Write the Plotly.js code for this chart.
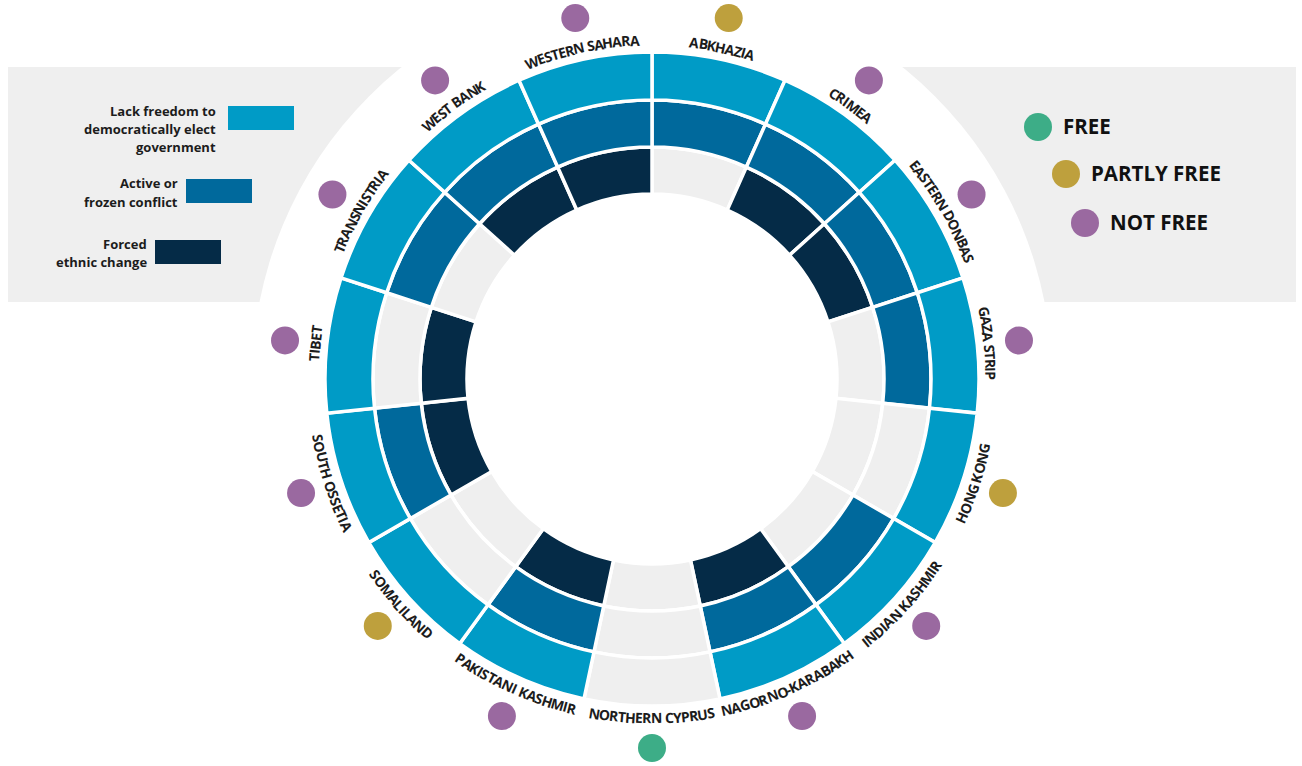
<!DOCTYPE html>
<html>
<head>
<meta charset="utf-8">
<script src="https://cdn.plot.ly/plotly-3.0.1.min.js"></script>
<style>html,body{margin:0;padding:0;background:#fff;}#chart{width:1302px;height:766px;}</style>
</head>
<body>
<div id="chart"></div>
<script>
// ---------------- DATA ----------------
const territories = ['ABKHAZIA','CRIMEA','EASTERN DONBAS','GAZA STRIP','HONG KONG','INDIAN KASHMIR',
  'NAGORNO-KARABAKH','NORTHERN CYPRUS','PAKISTANI KASHMIR','SOMALILAND','SOUTH OSSETIA','TIBET',
  'TRANSNISTRIA','WEST BANK','WESTERN SAHARA'];
const lackFreedom   = [1,1,1,1,1,1,1,0,1,1,1,1,1,1,1];
const activeConflict= [1,1,1,1,0,1,1,0,1,0,1,0,1,1,1];
const ethnicChange  = [0,1,1,0,0,0,1,0,1,0,1,1,0,1,1];
const freedomStatus = ['PARTLY FREE','NOT FREE','NOT FREE','NOT FREE','PARTLY FREE','NOT FREE',
  'NOT FREE','FREE','NOT FREE','PARTLY FREE','NOT FREE','NOT FREE','NOT FREE','NOT FREE','NOT FREE'];
const ringLabels = [['Lack freedom to','democratically elect','government'],['Active or','frozen conflict'],['Forced','ethnic change']];
const statusLabels = ['FREE','PARTLY FREE','NOT FREE'];

// ---------------- STYLE ----------------
const W = 1302, H = 766, CX = 652, CY = 379, R = 379;
const COL = {lack:'#009bc6', conflict:'#00699c', ethnic:'#052b47', empty:'#efefef'};
const STATUS_COL = {'FREE':'#3dad87','PARTLY FREE':'#bea03d','NOT FREE':'#9a69a0'};
const FONT = '"Open Sans", "DejaVu Sans", sans-serif';
const TXT = '#1c1c1c';
const px = x => x / W, py = y => 1 - y / H;

const n = territories.length, step = 360 / n;
const theta = territories.map((_, i) => (i + 0.5) * step);

function ring(vals, color, base, thick) {
  return {
    type: 'barpolar', theta: theta, width: territories.map(() => step),
    base: territories.map(() => base), r: territories.map(() => thick),
    marker: {color: vals.map(v => v ? color : COL.empty), line: {color: '#ffffff', width: 3.5}},
    hoverinfo: 'skip', showlegend: false
  };
}

const traces = [
  ring(ethnicChange, COL.ethnic, 185, 47),
  ring(activeConflict, COL.conflict, 232, 47),
  ring(lackFreedom, COL.lack, 279, 48),
  {
    type: 'scatterpolar', mode: 'markers', theta: theta, r: territories.map(() => 369),
    marker: {size: 28, color: freedomStatus.map(s => STATUS_COL[s])},
    cliponaxis: false, hoverinfo: 'skip', showlegend: false
  }
];

// ---------------- CURVED LABELS ----------------
const annotations = [];
const ctx = document.createElement('canvas').getContext('2d');
const LBL_SIZE = 14, LBL_R = 339, TRACK = 0.925;
ctx.font = '700 ' + LBL_SIZE + 'px "Open Sans", "DejaVu Sans", sans-serif';
territories.forEach((name, i) => {
  const th = theta[i];
  const top = th < 90 || th > 270;
  const chars = [...name];
  const widths = chars.map(c => ctx.measureText(c).width * TRACK);
  const total = widths.reduce((a, b) => a + b, 0);
  let s = -total / 2;
  chars.forEach((c, k) => {
    const mid = s + widths[k] / 2;
    s += widths[k];
    if (c === ' ') return;
    const off = mid / LBL_R * 180 / Math.PI;
    const a = top ? th + off : th - off;
    const rad = a * Math.PI / 180;
    let ta = top ? a : a - 180;
    while (ta > 180) ta -= 360;
    while (ta < -180) ta += 360;
    annotations.push({
      xref: 'paper', yref: 'paper', x: px(CX + LBL_R * Math.sin(rad)), y: py(CY - LBL_R * Math.cos(rad)),
      text: c, showarrow: false, xanchor: 'center', yanchor: 'middle', textangle: ta,
      font: {family: FONT, size: LBL_SIZE, color: TXT, weight: 700}, borderpad: 0
    });
  });
});

// ---------------- LEGENDS ----------------
const shapes = [
  {type: 'rect', xref: 'paper', yref: 'paper', layer: 'below', x0: px(8), x1: px(1296), y0: py(302), y1: py(67),
   fillcolor: '#efefef', line: {width: 0}},
  {type: 'circle', xref: 'paper', yref: 'paper', layer: 'below', x0: px(CX - 400), x1: px(CX + 400),
   y0: py(CY + 400), y1: py(CY - 400), fillcolor: '#ffffff', line: {width: 0}}
];
const ringColors = [COL.lack, COL.conflict, COL.ethnic];
const keyRects = [[228, 106], [186, 179], [155, 240]];
const textRight = [218, 180, 149];
const lineTops = [[111, 129, 147], [183, 202], [244, 262]];
ringLabels.forEach((lines, j) => {
  const [x0, y0] = keyRects[j];
  shapes.push({type: 'rect', xref: 'paper', yref: 'paper', x0: px(x0), x1: px(x0 + 66), y0: py(y0 + 24), y1: py(y0),
    fillcolor: ringColors[j], line: {width: 0}});
  lines.forEach((t, k) => {
    annotations.push({xref: 'paper', yref: 'paper', x: px(textRight[j]), y: py(lineTops[j][k]), text: t, showarrow: false,
      xanchor: 'right', yanchor: 'middle', font: {family: FONT, size: 13, color: TXT, weight: 700}});
  });
});
const statusPos = [[1038, 127], [1066, 174], [1085, 223]];
statusLabels.forEach((s, j) => {
  const [x, y] = statusPos[j];
  shapes.push({type: 'circle', xref: 'paper', yref: 'paper', x0: px(x - 14), x1: px(x + 14), y0: py(y + 14), y1: py(y - 14),
    fillcolor: STATUS_COL[s], line: {width: 0}});
  annotations.push({xref: 'paper', yref: 'paper', x: px(x + 23), y: py(y - 1), text: s, showarrow: false,
    xanchor: 'left', yanchor: 'middle', font: {family: FONT, size: 20.5, color: '#111', weight: 700}});
});

const layout = {
  width: W, height: H, margin: {l: 0, r: 0, t: 0, b: 0},
  paper_bgcolor: '#ffffff', showlegend: false,
  font: {family: FONT},
  polar: {
    domain: {x: [px(CX - R), px(CX + R)], y: [py(CY + R), py(CY - R)]},
    bgcolor: 'rgba(0,0,0,0)',
    radialaxis: {range: [0, R], visible: false},
    angularaxis: {rotation: 90, direction: 'clockwise', visible: false, thetaunit: 'degrees'}
  },
  shapes: shapes, annotations: annotations
};

Plotly.newPlot('chart', traces, layout, {displayModeBar: false, staticPlot: true});
</script>
</body>
</html>
